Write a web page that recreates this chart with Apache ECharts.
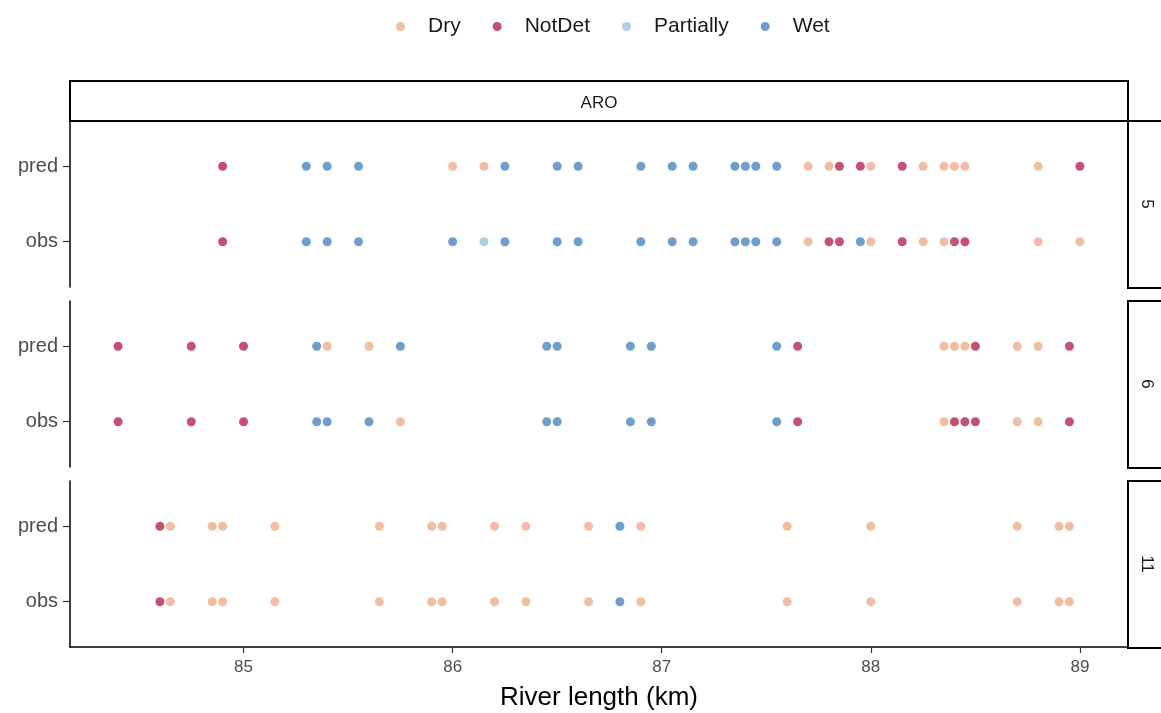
<!DOCTYPE html>
<html>
<head>
<meta charset="utf-8">
<script src="https://cdn.jsdelivr.net/npm/echarts@6/dist/echarts.min.js"></script>
<style>
html,body{margin:0;padding:0;background:#fff;}
#chart{width:1161px;height:713px;}
</style>
</head>
<body>
<div id="chart"></div>
<script>
// ---- data ----
const statuses = ['Dry', 'NotDet', 'Partially', 'Wet'];
const rowLabels = ['obs', 'pred'];
const facetLabels = ['5', '6', '11'];
const topStripLabel = 'ARO';
const xTicks = [85, 86, 87, 88, 89];

// facet 5
const f5_pred_km  = [84.9, 85.3, 85.4, 85.55, 86.0, 86.15, 86.25, 86.5, 86.6, 86.9, 87.05, 87.15, 87.35, 87.4, 87.45, 87.55, 87.7, 87.8, 87.85, 87.95, 88.0, 88.15, 88.25, 88.35, 88.4, 88.45, 88.8, 89.0];
const f5_pred_cls = ['NotDet','Wet','Wet','Wet','Dry','Dry','Wet','Wet','Wet','Wet','Wet','Wet','Wet','Wet','Wet','Wet','Dry','Dry','NotDet','NotDet','Dry','NotDet','Dry','Dry','Dry','Dry','Dry','NotDet'];
const f5_obs_km   = [84.9, 85.3, 85.4, 85.55, 86.0, 86.15, 86.25, 86.5, 86.6, 86.9, 87.05, 87.15, 87.35, 87.4, 87.45, 87.55, 87.7, 87.8, 87.85, 87.95, 88.0, 88.15, 88.25, 88.35, 88.4, 88.45, 88.8, 89.0];
const f5_obs_cls  = ['NotDet','Wet','Wet','Wet','Wet','Partially','Wet','Wet','Wet','Wet','Wet','Wet','Wet','Wet','Wet','Wet','Dry','NotDet','NotDet','Wet','Dry','NotDet','Dry','Dry','NotDet','NotDet','Dry','Dry'];

// facet 6
const f6_pred_km  = [84.4, 84.75, 85.0, 85.35, 85.4, 85.6, 85.75, 86.45, 86.5, 86.85, 86.95, 87.55, 87.65, 88.35, 88.4, 88.45, 88.5, 88.7, 88.8, 88.95];
const f6_pred_cls = ['NotDet','NotDet','NotDet','Wet','Dry','Dry','Wet','Wet','Wet','Wet','Wet','Wet','NotDet','Dry','Dry','Dry','NotDet','Dry','Dry','NotDet'];
const f6_obs_km   = [84.4, 84.75, 85.0, 85.35, 85.4, 85.6, 85.75, 86.45, 86.5, 86.85, 86.95, 87.55, 87.65, 88.35, 88.4, 88.45, 88.5, 88.7, 88.8, 88.95];
const f6_obs_cls  = ['NotDet','NotDet','NotDet','Wet','Wet','Wet','Dry','Wet','Wet','Wet','Wet','Wet','NotDet','Dry','NotDet','NotDet','NotDet','Dry','Dry','NotDet'];

// facet 11
const f11_pred_km  = [84.6, 84.65, 84.85, 84.9, 85.15, 85.65, 85.9, 85.95, 86.2, 86.35, 86.65, 86.8, 86.9, 87.6, 88.0, 88.7, 88.9, 88.95];
const f11_pred_cls = ['NotDet','Dry','Dry','Dry','Dry','Dry','Dry','Dry','Dry','Dry','Dry','Wet','Dry','Dry','Dry','Dry','Dry','Dry'];
const f11_obs_km   = [84.6, 84.65, 84.85, 84.9, 85.15, 85.65, 85.9, 85.95, 86.2, 86.35, 86.65, 86.8, 86.9, 87.6, 88.0, 88.7, 88.9, 88.95];
const f11_obs_cls  = ['NotDet','Dry','Dry','Dry','Dry','Dry','Dry','Dry','Dry','Dry','Dry','Wet','Dry','Dry','Dry','Dry','Dry','Dry'];

// ---- build ----
const colors = { Dry: '#EFAE8C', NotDet: '#B5264F', Partially: '#92C5DE', Wet: '#4A86BC' };
const panels = [
  { obs: [f5_obs_km, f5_obs_cls],  pred: [f5_pred_km, f5_pred_cls] },
  { obs: [f6_obs_km, f6_obs_cls],  pred: [f6_pred_km, f6_pred_cls] },
  { obs: [f11_obs_km, f11_obs_cls], pred: [f11_pred_km, f11_pred_cls] }
];

const L = 70, R = 1128;
const tops = [121, 301, 481];
const H = 166;
const font = '"Liberation Sans", Arial, sans-serif';

const grids = [], xAxes = [], yAxes = [], series = [];
panels.forEach((p, i) => {
  grids.push({ left: L, right: 1161 - R, top: tops[i], height: H, containLabel: false });
  const isBottom = i === panels.length - 1;
  xAxes.push({
    type: 'value', gridIndex: i, min: 84.17, max: 89.23,
    show: true,
    axisLine: { show: isBottom, onZero: false, lineStyle: { color: '#000', width: 1.5 } },
    axisTick: { show: isBottom, customValues: xTicks, length: 6, lineStyle: { color: '#333', width: 1.2 } },
    axisLabel: { show: isBottom, customValues: xTicks, color: '#4D4D4D', fontSize: 17, fontFamily: font, margin: 12 },
    splitLine: { show: false },
    name: isBottom ? 'River length (km)' : '',
    nameLocation: 'middle', nameGap: 38,
    nameTextStyle: { color: '#000', fontSize: 26, fontFamily: font }
  });
  yAxes.push({
    type: 'value', gridIndex: i, min: -0.6, max: 1.6,
    axisLine: { show: true, onZero: false, lineStyle: { color: '#000', width: 1.5 } },
    axisTick: { show: true, customValues: [0, 1], length: 7, lineStyle: { color: '#333', width: 1.2 } },
    axisLabel: { customValues: [0, 1], formatter: v => rowLabels[Math.round(v)], color: '#4D4D4D', fontSize: 20, fontFamily: font, margin: 12 },
    splitLine: { show: false }
  });
  statuses.forEach(s => {
    const data = [];
    rowLabels.forEach((rl, ri) => {
      const [km, cls] = p[rl];
      km.forEach((x, k) => { if (cls[k] === s) data.push([x, ri]); });
    });
    series.push({
      type: 'scatter', name: s, xAxisIndex: i, yAxisIndex: i,
      symbol: 'circle', symbolSize: 9, data,
      itemStyle: { color: colors[s], opacity: 0.8 },
      emphasis: { disabled: true }
    });
  });
});

const graphics = [
  { type: 'rect', shape: { x: L, y: 81, width: R - L, height: 40 }, style: { fill: '#fff', stroke: '#000', lineWidth: 2 }, z: 10 },
  { type: 'text', x: (L + R) / 2, y: 103, style: { text: topStripLabel, fill: '#1A1A1A', font: '17px ' + font, textAlign: 'center', textVerticalAlign: 'middle' }, z: 11 }
];
tops.forEach((t, i) => {
  graphics.push({ type: 'rect', shape: { x: R, y: t, width: 60, height: H + 1 }, style: { fill: '#fff', stroke: '#000', lineWidth: 2 }, z: 10 });
  graphics.push({ type: 'text', x: 1147, y: t + H / 2, rotation: -Math.PI / 2, style: { text: facetLabels[i], fill: '#1A1A1A', font: '17px ' + font, textAlign: 'center', textVerticalAlign: 'middle' }, z: 11 });
});

const chart = echarts.init(document.getElementById('chart'), null, { renderer: 'canvas' });
chart.setOption({
  animation: false,
  backgroundColor: '#fff',
  legend: {
    data: statuses, left: 391, top: 11, icon: 'circle',
    itemWidth: 9, itemHeight: 9, itemGap: 32,
    textStyle: { color: '#1A1A1A', fontSize: 21, fontFamily: font, padding: [0, 0, 0, 18] }
  },
  grid: grids, xAxis: xAxes, yAxis: yAxes, series,
  graphic: graphics
});
</script>
</body>
</html>
